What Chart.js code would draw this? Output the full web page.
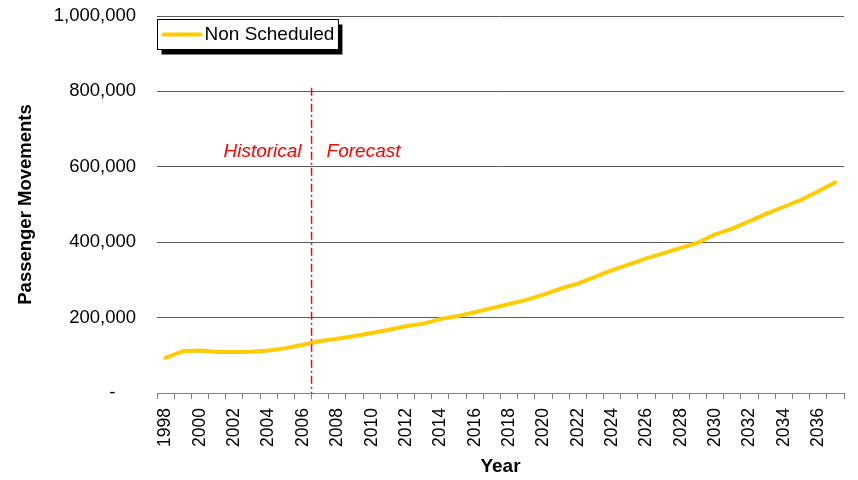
<!DOCTYPE html>
<html>
<head>
<meta charset="utf-8">
<script src="https://cdn.jsdelivr.net/npm/chart.js@4/dist/chart.umd.min.js"></script>
<style>
  html, body { margin: 0; padding: 0; background: #ffffff; }
  #wrap { width: 858px; height: 480px; }
</style>
</head>
<body>
<div id="wrap"><canvas id="chart" width="858" height="480"></canvas></div>
<script>
// Non scheduled passenger movements, actuals to 2006 and forecast thereafter
const years = ['1998','1999','2000','2001','2002','2003','2004','2005','2006','2007',
               '2008','2009','2010','2011','2012','2013','2014','2015','2016','2017',
               '2018','2019','2020','2021','2022','2023','2024','2025','2026','2027',
               '2028','2029','2030','2031','2032','2033','2034','2035','2036','2037'];

const nonScheduled = [93000, 111000, 113000, 109000, 108500, 109500, 113000, 119000, 128000, 138000,
                      144000, 151000, 159000, 168000, 177000, 184000, 196000, 204000, 214000, 225000,
                      236000, 247000, 261000, 277000, 290000, 308000, 326000, 341000, 357000, 371000,
                      385000, 399000, 421000, 436000, 456000, 476000, 494000, 512000, 535000, 559000];

const yTicks = [0, 200000, 400000, 600000, 800000, 1000000];

// Divider between historical and forecast years
const lastHistoricalYear = '2006';
const dividerTopValue = 810000;
const periodLabelValue = 640000;
const periodLabels = ['Historical', 'Forecast'];

const FONT = '"Liberation Sans", Arial, Helvetica, sans-serif';
const LINE_COLOR = '#FFCC00';

// Period divider with labels
const periodDivider = {
  id: 'periodDivider',
  afterDatasetsDraw(chart) {
    const { ctx, scales: { x, y } } = chart;
    const i = years.indexOf(lastHistoricalYear);
    const xp = (x.getPixelForValue(i) + x.getPixelForValue(i + 1)) / 2;
    ctx.save();
    ctx.strokeStyle = '#FF0000';
    ctx.lineWidth = 1.5;
    ctx.setLineDash([8, 3, 2, 3]);
    ctx.beginPath();
    ctx.moveTo(xp, y.getPixelForValue(dividerTopValue));
    ctx.lineTo(xp, y.getPixelForValue(0));
    ctx.stroke();
    ctx.setLineDash([]);
    ctx.fillStyle = '#FF0000';
    ctx.font = 'italic 19px ' + FONT;
    ctx.textBaseline = 'middle';
    const ly = y.getPixelForValue(periodLabelValue);
    ctx.textAlign = 'right';
    ctx.fillText(periodLabels[0], xp - 10, ly);
    ctx.textAlign = 'left';
    ctx.fillText(periodLabels[1], xp + 15, ly);
    ctx.restore();
  }
};

// Boxed legend with drop shadow inside the plot area
const boxedLegend = {
  id: 'boxedLegend',
  afterDraw(chart) {
    const { ctx, chartArea } = chart;
    const ds = chart.data.datasets[0];
    ctx.save();
    ctx.font = '19px ' + FONT;
    const tw = ctx.measureText(ds.label).width;
    const bx = chartArea.left + 0.5;
    const by = chartArea.top + 3.5;
    const bw = 47 + tw + 4;
    const bh = 30;
    ctx.fillStyle = '#000000';
    ctx.fillRect(bx + 4, by + 5, bw, bh);
    ctx.fillStyle = '#ffffff';
    ctx.fillRect(bx, by, bw, bh);
    ctx.strokeStyle = '#000000';
    ctx.lineWidth = 1;
    ctx.strokeRect(bx, by, bw, bh);
    const my = by + bh / 2;
    ctx.strokeStyle = ds.borderColor;
    ctx.lineWidth = 4;
    ctx.lineCap = 'round';
    ctx.beginPath();
    ctx.moveTo(bx + 6, my);
    ctx.lineTo(bx + 43, my);
    ctx.stroke();
    ctx.fillStyle = '#000000';
    ctx.textAlign = 'left';
    ctx.textBaseline = 'middle';
    ctx.fillText(ds.label, bx + 47, my + 0.5);
    ctx.restore();
  }
};

new Chart(document.getElementById('chart'), {
  type: 'line',
  data: {
    labels: years,
    datasets: [{
      label: 'Non Scheduled',
      data: nonScheduled,
      borderColor: LINE_COLOR,
      backgroundColor: LINE_COLOR,
      borderWidth: 4,
      borderCapStyle: 'round',
      borderJoinStyle: 'round',
      pointRadius: 0,
      tension: 0,
      fill: false
    }]
  },
  options: {
    responsive: false,
    animation: false,
    devicePixelRatio: 1,
    layout: { padding: { left: 0, right: 14, top: 16, bottom: 0 } },
    plugins: {
      legend: { display: false },
      tooltip: { enabled: false }
    },
    scales: {
      x: {
        type: 'category',
        offset: true,
        grid: {
          display: true,
          offset: true,
          drawOnChartArea: false,
          drawTicks: true,
          tickLength: 6,
          color: '#808080',
          lineWidth: 1
        },
        border: { display: true, color: '#808080', width: 1 },
        ticks: {
          autoSkip: false,
          minRotation: 90,
          maxRotation: 90,
          padding: 9,
          color: '#000000',
          font: { family: FONT, size: 17.5 },
          callback(value, index) {
            return index % 2 === 0 ? years[index] : '';
          }
        },
        title: {
          display: true,
          text: 'Year',
          color: '#000000',
          font: { family: FONT, size: 19, weight: 'bold' },
          padding: { top: 0, bottom: 2 }
        },
        afterFit(scale) {
          scale.height = 87;
          scale.paddingLeft = 0;
          scale.paddingRight = 0;
        }
      },
      y: {
        min: 0,
        max: 1000000,
        afterBuildTicks(scale) { scale.ticks = yTicks.map(v => ({ value: v })); },
        grid: {
          drawTicks: false,
          color: ctx => ctx.tick && ctx.tick.value === 0 ? 'rgba(0,0,0,0)' : '#5a5a5a',
          lineWidth: 1
        },
        border: { display: false },
        ticks: {
          padding: 21,
          color: '#000000',
          font: { family: FONT, size: 18.5 },
          callback(value) {
            return value === 0 ? '-    ' : value.toLocaleString('en-US');
          }
        },
        title: {
          display: true,
          text: 'Passenger Movements',
          color: '#000000',
          font: { family: FONT, size: 18.5, weight: 'bold' },
          padding: { top: 15, bottom: 0 }
        },
        afterFit(scale) {
          scale.width = 157;
          scale.paddingTop = 0;
          scale.paddingBottom = 0;
        }
      }
    }
  },
  plugins: [periodDivider, boxedLegend]
});
</script>
</body>
</html>
